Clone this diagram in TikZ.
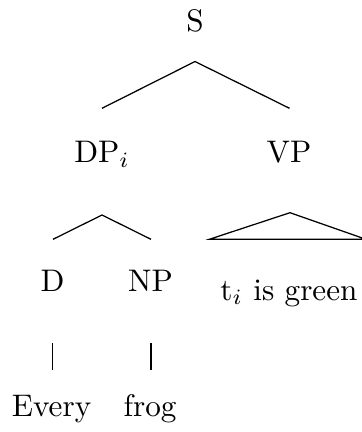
\documentclass[tikz,border=0pt]{standalone}
\begin{document}
\begin{tikzpicture}[x=0.3205pt,y=-0.3205pt,
  lbl/.style={anchor=base,inner sep=0pt},
  edge/.style={line width=0.4pt}]
\useasboundingbox (0,0) rectangle (361,432);
% labels
\node[lbl] (S) at (195,31.7) {S};
\node[lbl] (DP) at (102,162.7) {DP$_i$};
\node[lbl] (VP) at (289,162.7) {VP};
\node[lbl] (D) at (52.5,291.7) {D};
\node[lbl] (NP) at (150.5,291.7) {NP};
\node[lbl] (T) at (289,300) {t$_i$ is green};
\node[lbl] (Every) at (51.5,416.7) {Every};
\node[lbl] (frog) at (150,416.7) {frog};
% branch points
\coordinate (sTop) at (195,61.5);
\coordinate (sL) at (102,108.3);
\coordinate (sR) at (289.5,108.3);
\coordinate (dTop) at (102,215);
\coordinate (dL) at (53,239.3);
\coordinate (dR) at (151,239.3);
\coordinate (vTop) at (290,212.7);
\coordinate (vL) at (209.3,239.3);
\coordinate (vR) at (366,239.3);
\coordinate (e1) at (52.7,343.3);
\coordinate (e2) at (52.7,370);
\coordinate (f1) at (151,343.3);
\coordinate (f2) at (151,370);
% connectors
\draw[edge] (sL) -- (sTop) -- (sR);
\draw[edge] (dL) -- (dTop) -- (dR);
\draw[edge] (vL) -- (vTop) -- (vR) -- cycle;
\draw[edge] (e1) -- (e2);
\draw[edge] (f1) -- (f2);
\end{tikzpicture}
\end{document}
